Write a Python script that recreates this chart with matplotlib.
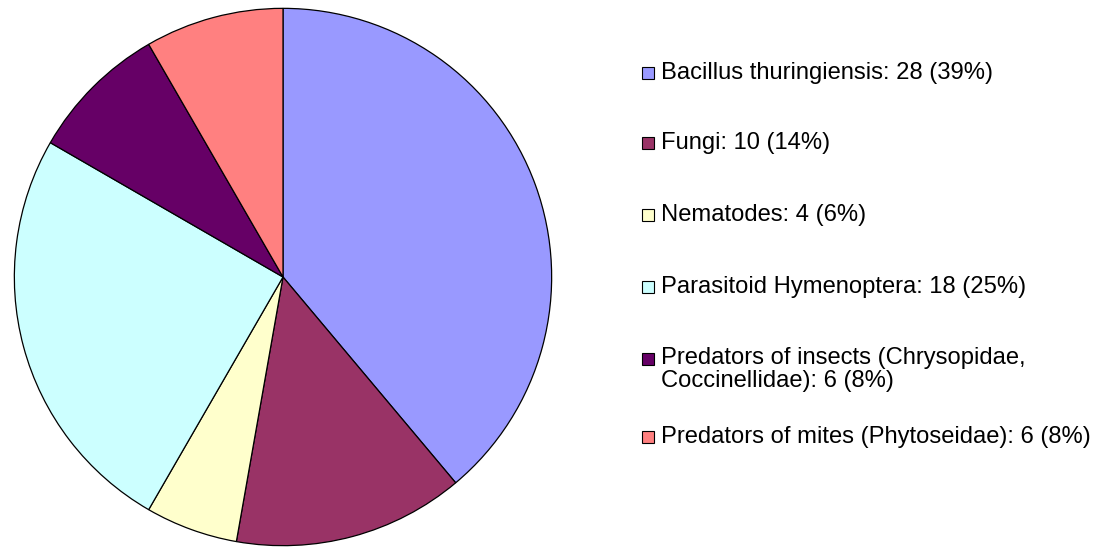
import matplotlib.pyplot as plt
from matplotlib.patches import Rectangle

# data
names = ["Bacillus thuringiensis", "Fungi", "Nematodes", "Parasitoid Hymenoptera",
         "Predators of insects (Chrysopidae,\nCoccinellidae)", "Predators of mites (Phytoseidae)"]
counts = [28, 10, 4, 18, 6, 6]
colors = ["#9999FF", "#993366", "#FFFFCC", "#CCFFFF", "#660066", "#FF8080"]

plt.rcParams["font.family"] = ["Liberation Sans", "DejaVu Sans"]

W, H = 1116, 547
fig = plt.figure(figsize=(W / 100, H / 100), dpi=100)

# pie axes: centre (283, 277) px, radius 270 px
ax = fig.add_axes([13 / W, 0 / H, 540 / W, 540 / H])
ax.pie(counts, colors=colors, startangle=90, counterclock=False, radius=1,
       wedgeprops={"edgecolor": "black", "linewidth": 0.9})
ax.set_xlim(-1.005, 1.005)
ax.set_ylim(-1.005, 1.005)
ax.set_aspect("equal")
ax.axis("off")

# legend drawn by hand
total = sum(counts)
row_y = [73, 143, 215, 287, 359, 437]
for name, c, col, y in zip(names, counts, colors, row_y):
    label = f"{name}: {c} ({round(100 * c / total)}%)"
    sq = 12
    fig.add_artist(Rectangle((642 / W, (H - y - sq / 2) / H), sq / W, sq / H,
                             transform=fig.transFigure, facecolor=col,
                             edgecolor="black", linewidth=0.8))
    two = "\n" in name
    fig.text(661 / W, (H - y + (12 if two else 0)) / H, label,
             fontsize=17.1, va="top" if two else "center",
             ha="left", linespacing=1.03)

fig.savefig("out.png", dpi=100)
